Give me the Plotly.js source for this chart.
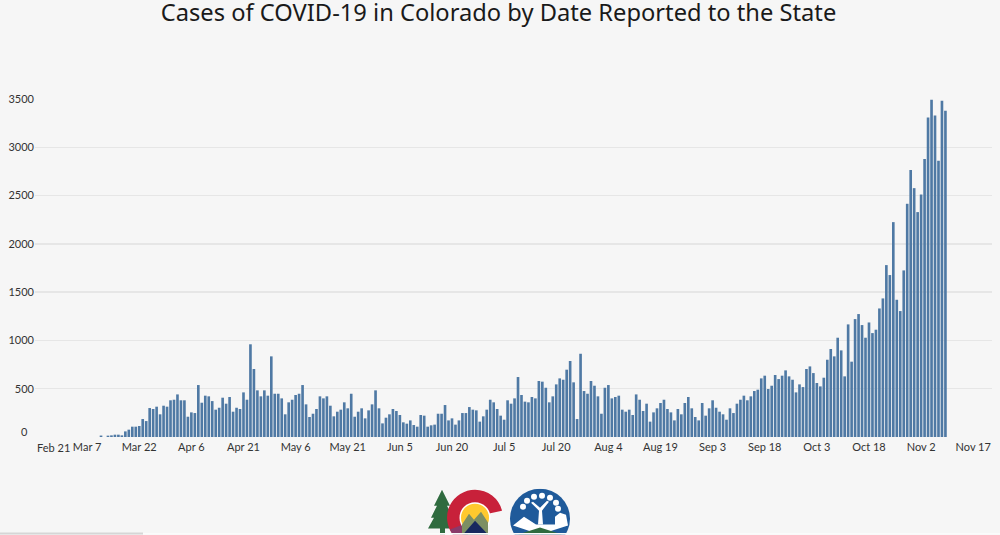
<!DOCTYPE html>
<html>
<head>
<meta charset="utf-8">
<script src="https://cdn.plot.ly/plotly-3.0.1.min.js"></script>
<style>html,body{margin:0;padding:0;background:#f6f6f6;overflow:hidden}#chart{width:1000px;height:535px}</style>
</head>
<body>
<div id="chart"></div>
<script>
var firstDay = '2020-03-11';
var march = [15,null,14,17,24,24,17,58,76,107,107,114,186,165,300,290,314,235,324,314,380];
var april = [386,441,380,380,210,255,248,538,355,428,421,372,283,303,407,345,414,262,303,290,462,386,960,704,483,421,483,428,835,448];
var may = [448,400,235,359,386,435,448,538,338,207,241,290,421,400,421,324,214,262,283,359,297,448,210,262,297,193,276,338,483,297,141];
var june = [200,235,290,269,228,152,138,172,124,107,228,221,107,121,128,241,241,331,172,193,128,172,248,248,310,283,276,159,214,283];
var july = [386,359,290,221,179,380,345,400,621,435,366,359,414,400,580,573,510,359,421,545,607,593,697,787,566,186,862,476,448,580,531];
var august = [421,241,510,538,400,414,428,283,262,283,228,441,386,269,345,159,255,297,352,386,290,255,172,290,235,352,414,297,207,172,352];
var september = [221,297,380,303,262,235,179,297,248,345,386,428,380,421,476,490,607,635,497,531,642,600,635,690,628,593,462,545,517,704];
var october = [731,662,559,524,614,800,911,835,1028,897,628,1166,780,1221,1273,1159,1028,1186,1076,1111,1331,1435,1780,1677,2225,1421,1304,1725,2415,2764,2577];
var november = [2329,2511,2878,3309,3492,3329,2860,3481,3378];

var xTickDates = ['2020-03-07','2020-03-22','2020-04-06','2020-04-21','2020-05-06','2020-05-21','2020-06-05','2020-06-20','2020-07-05','2020-07-20','2020-08-04','2020-08-19','2020-09-03','2020-09-18','2020-10-03','2020-10-18','2020-11-02','2020-11-17'];
var xTickLabels = ['Mar 7','Mar 22','Apr 6','Apr 21','May 6','May 21','Jun 5','Jun 20','Jul 5','Jul 20','Aug 4','Aug 19','Sep 3','Sep 18','Oct 3','Oct 18','Nov 2','Nov 17'];
var yTicks = [0,500,1000,1500,2000,2500,3000,3500];
var yTickLabels = ['','500','1000','1500','2000','2500','3000','3500'];
var titleText = 'Cases of COVID-19 in Colorado by Date Reported to the State';
var tickFont = {family: 'Lato, sans-serif', size: 11, color: '#333'};

var cases = [].concat(march,april,may,june,july,august,september,october,november);
var dates = cases.map(function(_,i){
  var d = new Date(firstDay+'T00:00:00Z'); d.setUTCDate(d.getUTCDate()+i);
  return d.toISOString().slice(0,10);
});

var logo = '<svg xmlns="http://www.w3.org/2000/svg" width="146" height="46" viewBox="0 0 146 46">'+
 '<path d="M14 1 L22 17 L19 17 L25 29 L22 29 L27 40 L0 40 L6 29 L3 29 L9 17 L6 17 Z M12 40h5v6h-5z" fill="#2f6b3f"/>'+
 '<path d="M47 1 A28 28 0 0 1 74 22 L60 25 A14 14 0 1 0 38 40 L35 46 L24.8 46 A28 28 0 0 1 47 1 Z" fill="#c8213a"/>'+
 '<path d="M24.8 46 A28 28 0 0 1 22 41 L35 36 L40 46 Z" fill="#8a3a6a"/>'+
 '<circle cx="47" cy="29" r="15.5" fill="#fff"/><circle cx="47" cy="29" r="14" fill="#ffc92e"/>'+
 '<path d="M34 36 L41 25 L46 31 L53 23 L60 34 L60 46 L34 46 Z" fill="#7d8f63"/>'+
 '<path d="M35 46 L47 32 L60 46 Z" fill="#17285f"/>'+
 '<circle cx="112" cy="30" r="30" fill="#1f5a9a"/>'+
 '<path d="M110 36 L111 22 L103 14 L105 13 L112 19 L119 12 L121 13 L114 22 L115 36 Z" fill="#fff"/>'+
 '<circle cx="99" cy="12" r="3" fill="#fff"/><circle cx="106" cy="8" r="3" fill="#fff"/><circle cx="114" cy="7" r="3" fill="#fff"/><circle cx="122" cy="9" r="3" fill="#fff"/><circle cx="128" cy="14" r="3" fill="#fff"/><circle cx="95" cy="18" r="3" fill="#fff"/><circle cx="130" cy="20" r="3" fill="#fff"/>'+
 '<path d="M85 37 L96 28 L108 36 L127 36 L127 28 L132 24 L138 26 L140 37 L112 46 Z" fill="#fff"/>'+
 '<path d="M90 46 L112 39 L134 46 Z" fill="#2f6b3f"/>'+
 '</svg>';

var layout = {
  width: 1000, height: 535,
  paper_bgcolor: '#f6f6f6', plot_bgcolor: '#f6f6f6',
  margin: {l: 35, r: 8, t: 99, b: 97.7, pad: 0},
  showlegend: false,
  bargap: 0.24,
  title: {text: titleText, font: {family: 'Noto Sans, sans-serif', size: 23.7, color: '#1a1a1a'},
          x: 0.4985, xanchor: 'center', xref: 'container', y: 0.976, yanchor: 'middle', yref: 'container'},
  xaxis: {type: 'date', range: ['2020-02-21','2020-11-22 09:36'], tickmode: 'array',
          tickvals: xTickDates, ticktext: xTickLabels, ticklen: 0, showgrid: false, zeroline: false,
          showline: false, tickangle: 0, ticklabelstandoff: 2, tickfont: tickFont},
  yaxis: {range: [0,3500], tickmode: 'array', tickvals: yTicks, ticktext: yTickLabels, ticklen: 0,
          gridcolor: '#e6e6e6', gridwidth: 1.4, zeroline: false, showline: false, automargin: false,
          tickfont: tickFont},
  annotations: [
    {x: '2020-02-21', xref: 'x', y: 0, yref: 'paper', yanchor: 'top', xanchor: 'left', yshift: -2, xshift: 0,
     text: 'Feb 21', showarrow: false, font: tickFont},
    {x: 0, xref: 'paper', y: 0, yref: 'y', xanchor: 'right', yanchor: 'middle', xshift: -5, yshift: 6,
     text: '0', showarrow: false, font: tickFont}
  ],
  images: [{source: 'data:image/svg+xml;charset=utf-8,'+encodeURIComponent(logo), xref: 'paper', yref: 'paper',
            x: (428-35)/957, y: (437.3-489)/338.3, sizex: 146/957, sizey: 46/338.3, xanchor: 'left', yanchor: 'top',
            sizing: 'stretch', layer: 'above'}],
  shapes: [
    {type: 'rect', xref: 'paper', yref: 'paper', x0: -35/957, x1: 108/957, y0: (437.3-533)/338.3, y1: (437.3-535)/338.3,
     fillcolor: '#d6d6d6', line: {width: 0}},
    {type: 'rect', xref: 'paper', yref: 'paper', x0: 108/957, x1: 965/957, y0: (437.3-533.5)/338.3, y1: (437.3-535)/338.3,
     fillcolor: '#fbfbfb', line: {width: 0}}
  ]
};

Plotly.newPlot('chart', [{type: 'bar', x: dates, y: cases, marker: {color: '#4f79a4', line: {width: 0}}, hoverinfo: 'x+y'}],
  layout, {displayModeBar: false, staticPlot: true});
</script>
</body>
</html>
